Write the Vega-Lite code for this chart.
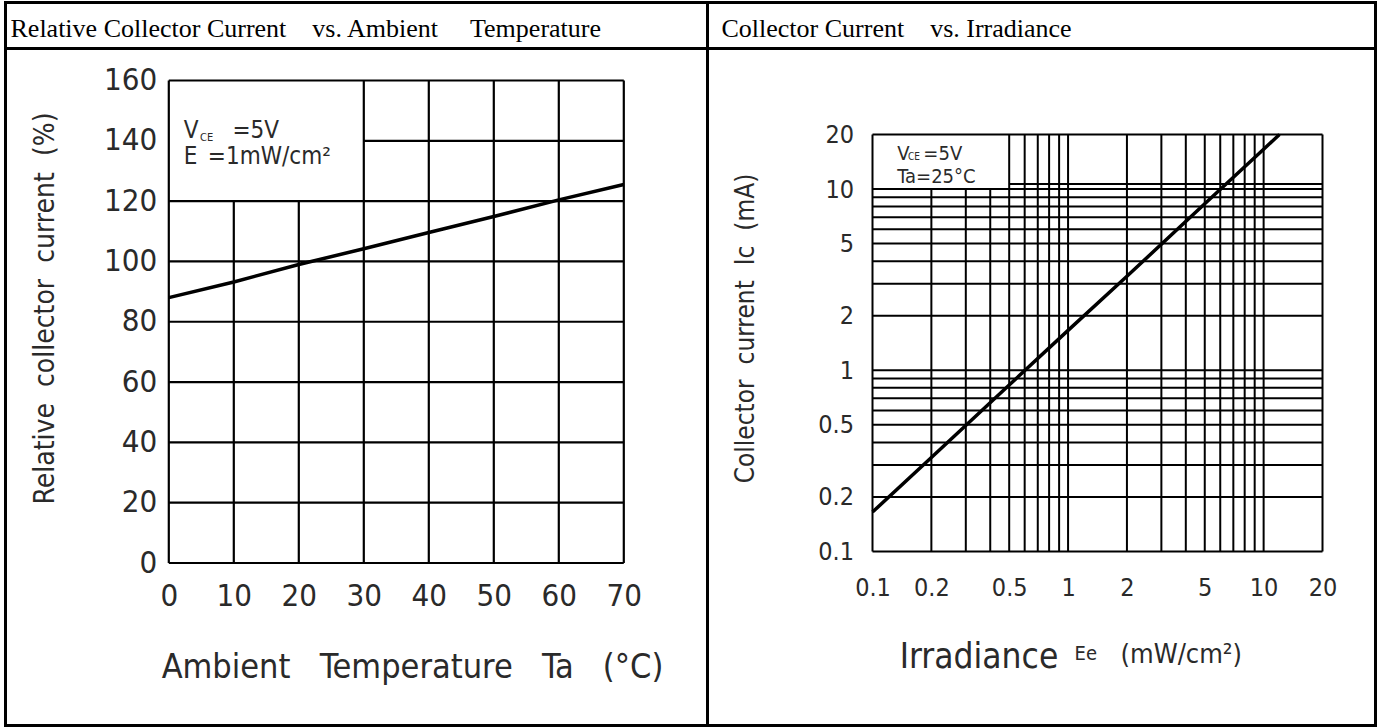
{
  "$schema": "https://vega.github.io/schema/vega-lite/v6.json",
  "background": "white",
  "padding": {"left": 3.5, "top": 0.5, "right": 0, "bottom": 0},
  "config": {
    "view": {"stroke": "black", "strokeWidth": 3},
    "concat": {"spacing": 0},
    "axis": {"grid": false, "domain": false, "ticks": false, "tickSize": 0}
  },
  "columns": 2,
  "spacing": 0,
  "bounds": "flush",
  "concat": [
    {
      "width": 702, "height": 46,
      "data": {"values": [{"heading": "Relative Collector Current\u00a0\u00a0\u00a0 vs. Ambient\u00a0\u00a0\u00a0\u00a0 Temperature"}]},
      "mark": {"type": "text", "align": "left", "baseline": "middle", "font": "Liberation Serif", "fontSize": 26, "color": "black", "dx": 5, "dy": 3},
      "encoding": {
        "text": {"field": "heading"},
        "x": {"datum": 0, "type": "quantitative", "scale": {"domain": [0, 1]}, "axis": null}
      }
    },
    {
      "width": 668, "height": 46,
      "data": {"values": [{"heading": "Collector Current\u00a0\u00a0\u00a0 vs. Irradiance"}]},
      "mark": {"type": "text", "align": "left", "baseline": "middle", "font": "Liberation Serif", "fontSize": 26, "color": "black", "dx": 14, "dy": 3},
      "encoding": {
        "text": {"field": "heading"},
        "x": {"datum": 0, "type": "quantitative", "scale": {"domain": [0, 1]}, "axis": null}
      }
    },
    {
      "width": 702, "height": 677,
      "layer": [
        {
          "data": {"values": [
            {"Ta": 0, "from": 0, "to": 160}, {"Ta": 10, "from": 0, "to": 120}, {"Ta": 20, "from": 0, "to": 120},
            {"Ta": 30, "from": 0, "to": 160}, {"Ta": 40, "from": 0, "to": 160}, {"Ta": 50, "from": 0, "to": 160},
            {"Ta": 60, "from": 0, "to": 160}, {"Ta": 70, "from": 0, "to": 160}
          ]},
          "mark": {"type": "rule", "color": "black", "strokeWidth": 2.2},
          "encoding": {
            "x": {"field": "Ta", "type": "quantitative", "scale": {"domain": [0, 70], "range": [163.3, 618.3], "nice": false, "zero": false}},
            "y": {"field": "from", "type": "quantitative", "scale": {"domain": [0, 160], "range": [514.5, 32], "nice": false, "zero": false}},
            "y2": {"field": "to"}
          }
        },
        {
          "data": {"values": [
            {"I": 0, "from": 0, "to": 70}, {"I": 20, "from": 0, "to": 70}, {"I": 40, "from": 0, "to": 70},
            {"I": 60, "from": 0, "to": 70}, {"I": 80, "from": 0, "to": 70}, {"I": 100, "from": 0, "to": 70},
            {"I": 120, "from": 0, "to": 70}, {"I": 140, "from": 30, "to": 70}, {"I": 160, "from": 0, "to": 70}
          ]},
          "mark": {"type": "rule", "color": "black", "strokeWidth": 2.2},
          "encoding": {
            "y": {"field": "I", "type": "quantitative", "scale": {"domain": [0, 160], "range": [514.5, 32], "nice": false, "zero": false}},
            "x": {"field": "from", "type": "quantitative", "scale": {"domain": [0, 70], "range": [163.3, 618.3], "nice": false, "zero": false}},
            "x2": {"field": "to"}
          }
        },
        {
          "data": {"values": [
            {"Ta": 0, "Irel": 88}, {"Ta": 10, "Irel": 93.2}, {"Ta": 20, "Irel": 99}, {"Ta": 30, "Irel": 104.2},
            {"Ta": 40, "Irel": 109.6}, {"Ta": 50, "Irel": 114.9}, {"Ta": 60, "Irel": 120.4}, {"Ta": 70, "Irel": 125.5}
          ]},
          "mark": {"type": "line", "color": "black", "strokeWidth": 3.5, "strokeCap": "butt"},
          "encoding": {
            "x": {
              "field": "Ta", "type": "quantitative",
              "scale": {"domain": [0, 70], "range": [163.3, 618.3], "nice": false, "zero": false},
              "axis": {
                "values": [0, 10, 20, 30, 40, 50, 60, 70], "grid": false, "domain": false, "ticks": false, "tickSize": 0,
                "offset": -162.5, "labelFont": "DejaVu Sans Condensed, DejaVu Sans", "labelFontSize": 31, "labelColor": "#2a2a2a",
                "labelPadding": 18, "labelFlush": false, "labelOverlap": false,
                "title": "Ambient\u00a0\u00a0 Temperature\u00a0\u00a0 Ta\u00a0\u00a0 (°C)", "titleFont": "DejaVu Sans Condensed, DejaVu Sans", "titleFontSize": 34,
                "titleFontWeight": "normal", "titleColor": "#2a2a2a", "titleX": 406.5, "titleY": 114.5, "titleAlign": "center", "titleBaseline": "alphabetic"
              }
            },
            "y": {
              "field": "Irel", "type": "quantitative",
              "scale": {"domain": [0, 160], "range": [514.5, 32], "nice": false, "zero": false},
              "axis": {
                "values": [0, 20, 40, 60, 80, 100, 120, 140, 160], "grid": false, "domain": false, "ticks": false, "tickSize": 0,
                "offset": -163.3, "labelFont": "DejaVu Sans Condensed, DejaVu Sans", "labelFontSize": 31, "labelColor": "#2a2a2a",
                "labelPadding": 12, "labelFlush": false, "labelOverlap": false,
                "title": "Relative\u00a0 collector\u00a0 current\u00a0 (%)", "titleFont": "DejaVu Sans Condensed, DejaVu Sans", "titleFontSize": 28,
                "titleFontWeight": "normal", "titleColor": "#2a2a2a", "titleX": -115, "titleY": 259.5, "titleAngle": 270, "titleAlign": "center", "titleBaseline": "alphabetic"
              }
            }
          }
        },
        {
          "data": {"values": [
            {"note": "V", "Ta": 2.3, "Irel": 143.4}, {"note": "=5V", "Ta": 9.8, "Irel": 143.4},
            {"note": "E", "Ta": 2.3, "Irel": 134.5}, {"note": "=1mW/cm²", "Ta": 6.0, "Irel": 134.5}
          ]},
          "mark": {"type": "text", "align": "left", "baseline": "middle", "font": "DejaVu Sans Condensed, DejaVu Sans", "fontSize": 24, "color": "#2a2a2a"},
          "encoding": {
            "text": {"field": "note"},
            "x": {"field": "Ta", "type": "quantitative", "scale": {"domain": [0, 70], "range": [163.3, 618.3], "nice": false, "zero": false}},
            "y": {"field": "Irel", "type": "quantitative", "scale": {"domain": [0, 160], "range": [514.5, 32], "nice": false, "zero": false}}
          }
        },
        {
          "data": {"values": [{"note": "CE", "Ta": 4.8, "Irel": 140.8}]},
          "mark": {"type": "text", "align": "left", "baseline": "middle", "font": "DejaVu Sans Condensed, DejaVu Sans", "fontSize": 11, "color": "#2a2a2a"},
          "encoding": {
            "text": {"field": "note"},
            "x": {"field": "Ta", "type": "quantitative", "scale": {"domain": [0, 70], "range": [163.3, 618.3], "nice": false, "zero": false}},
            "y": {"field": "Irel", "type": "quantitative", "scale": {"domain": [0, 160], "range": [514.5, 32], "nice": false, "zero": false}}
          }
        }
      ]
    },
    {
      "width": 668, "height": 677,
      "layer": [
        {
          "data": {"values": [
            {"Ee": 0.1, "from": 0.1, "to": 20}, {"Ee": 0.2, "from": 0.1, "to": 10}, {"Ee": 0.3, "from": 0.1, "to": 10},
            {"Ee": 0.4, "from": 0.1, "to": 10}, {"Ee": 0.5, "from": 0.1, "to": 20}, {"Ee": 0.6, "from": 0.1, "to": 20},
            {"Ee": 0.7, "from": 0.1, "to": 20}, {"Ee": 0.8, "from": 0.1, "to": 20}, {"Ee": 0.9, "from": 0.1, "to": 20},
            {"Ee": 1, "from": 0.1, "to": 20}, {"Ee": 2, "from": 0.1, "to": 20}, {"Ee": 3, "from": 0.1, "to": 20},
            {"Ee": 4, "from": 0.1, "to": 20}, {"Ee": 5, "from": 0.1, "to": 20}, {"Ee": 6, "from": 0.1, "to": 20},
            {"Ee": 7, "from": 0.1, "to": 20}, {"Ee": 8, "from": 0.1, "to": 20}, {"Ee": 9, "from": 0.1, "to": 20},
            {"Ee": 10, "from": 0.1, "to": 20}, {"Ee": 20, "from": 0.1, "to": 20}
          ]},
          "mark": {"type": "rule", "color": "black", "strokeWidth": 2},
          "encoding": {
            "x": {"field": "Ee", "type": "quantitative", "scale": {"type": "log", "domain": [0.1, 20], "range": [165, 615], "nice": false}},
            "y": {"field": "from", "type": "quantitative", "scale": {"type": "log", "domain": [0.1, 20], "range": [503, 86], "nice": false}},
            "y2": {"field": "to"}
          }
        },
        {
          "data": {"values": [
            {"Ic": 0.1, "from": 0.1, "to": 20}, {"Ic": 0.2, "from": 0.1, "to": 20}, {"Ic": 0.3, "from": 0.1, "to": 20},
            {"Ic": 0.4, "from": 0.1, "to": 20}, {"Ic": 0.5, "from": 0.1, "to": 20}, {"Ic": 0.6, "from": 0.1, "to": 20},
            {"Ic": 0.7, "from": 0.1, "to": 20}, {"Ic": 0.8, "from": 0.1, "to": 20}, {"Ic": 0.9, "from": 0.1, "to": 20},
            {"Ic": 1, "from": 0.1, "to": 20}, {"Ic": 2, "from": 0.1, "to": 20}, {"Ic": 3, "from": 0.1, "to": 20},
            {"Ic": 4, "from": 0.1, "to": 20}, {"Ic": 5, "from": 0.1, "to": 20}, {"Ic": 6, "from": 0.1, "to": 20},
            {"Ic": 7, "from": 0.1, "to": 20}, {"Ic": 8, "from": 0.1, "to": 20}, {"Ic": 9, "from": 0.1, "to": 20},
            {"Ic": 10, "from": 0.1, "to": 20}, {"Ic": 10.66, "from": 0.5, "to": 20}, {"Ic": 20, "from": 0.1, "to": 20}
          ]},
          "mark": {"type": "rule", "color": "black", "strokeWidth": 2},
          "encoding": {
            "y": {"field": "Ic", "type": "quantitative", "scale": {"type": "log", "domain": [0.1, 20], "range": [503, 86], "nice": false}},
            "x": {"field": "from", "type": "quantitative", "scale": {"type": "log", "domain": [0.1, 20], "range": [165, 615], "nice": false}},
            "x2": {"field": "to"}
          }
        },
        {
          "data": {"values": [
            {"Ee": 0.1, "Ic": 0.165}, {"Ee": 0.2, "Ic": 0.33}, {"Ee": 0.5, "Ic": 0.83}, {"Ee": 1, "Ic": 1.66},
            {"Ee": 2, "Ic": 3.3}, {"Ee": 5, "Ic": 8.3}, {"Ee": 10, "Ic": 16.6}, {"Ee": 12.05, "Ic": 20}
          ]},
          "mark": {"type": "line", "color": "black", "strokeWidth": 3.5, "strokeCap": "butt"},
          "encoding": {
            "x": {
              "field": "Ee", "type": "quantitative",
              "scale": {"type": "log", "domain": [0.1, 20], "range": [165, 615], "nice": false},
              "axis": {
                "values": [0.1, 0.2, 0.5, 1, 2, 5, 10, 20], "format": "~g", "grid": false, "domain": false, "ticks": false, "tickSize": 0,
                "offset": -174, "labelFont": "DejaVu Sans Condensed, DejaVu Sans", "labelFontSize": 25, "labelColor": "#2a2a2a",
                "labelPadding": 24, "labelFlush": false, "labelOverlap": false,
                "title": "Irradiance", "titleFont": "DejaVu Sans Condensed, DejaVu Sans", "titleFontSize": 35,
                "titleFontWeight": "normal", "titleColor": "#2a2a2a", "titleX": 271, "titleY": 116, "titleAlign": "center", "titleBaseline": "alphabetic"
              }
            },
            "y": {
              "field": "Ic", "type": "quantitative",
              "scale": {"type": "log", "domain": [0.1, 20], "range": [503, 86], "nice": false},
              "axis": {
                "values": [0.1, 0.2, 0.5, 1, 2, 5, 10, 20], "format": "~g", "grid": false, "domain": false, "ticks": false, "tickSize": 0,
                "offset": -165, "labelFont": "DejaVu Sans Condensed, DejaVu Sans", "labelFontSize": 25, "labelColor": "#2a2a2a",
                "labelPadding": 19, "labelFlush": false, "labelOverlap": false,
                "title": "Collector\u00a0 current\u00a0 Ic\u00a0 (mA)", "titleFont": "DejaVu Sans Condensed, DejaVu Sans", "titleFontSize": 26,
                "titleFontWeight": "normal", "titleColor": "#2a2a2a", "titleX": -119, "titleY": 279.5, "titleAngle": 270, "titleAlign": "center", "titleBaseline": "alphabetic"
              }
            }
          }
        },
        {
          "data": {"values": [
            {"note": "V", "Ee": 0.134, "Ic": 15.7}, {"note": "=5V", "Ee": 0.182, "Ic": 15.7},
            {"note": "Ta=25°C", "Ee": 0.134, "Ic": 11.6}
          ]},
          "mark": {"type": "text", "align": "left", "baseline": "middle", "font": "DejaVu Sans Condensed, DejaVu Sans", "fontSize": 20, "color": "#2a2a2a"},
          "encoding": {
            "text": {"field": "note"},
            "x": {"field": "Ee", "type": "quantitative", "scale": {"type": "log", "domain": [0.1, 20], "range": [165, 615], "nice": false}},
            "y": {"field": "Ic", "type": "quantitative", "scale": {"type": "log", "domain": [0.1, 20], "range": [503, 86], "nice": false}}
          }
        },
        {
          "data": {"values": [{"note": "CE", "Ee": 0.152, "Ic": 15.0}]},
          "mark": {"type": "text", "align": "left", "baseline": "middle", "font": "DejaVu Sans Condensed, DejaVu Sans", "fontSize": 10, "color": "#2a2a2a"},
          "encoding": {
            "text": {"field": "note"},
            "x": {"field": "Ee", "type": "quantitative", "scale": {"type": "log", "domain": [0.1, 20], "range": [165, 615], "nice": false}},
            "y": {"field": "Ic", "type": "quantitative", "scale": {"type": "log", "domain": [0.1, 20], "range": [503, 86], "nice": false}}
          }
        },
        {
          "data": {"values": [{"note": "Ee", "Ee": 1.079, "Ic": 0.02535}]},
          "mark": {"type": "text", "align": "left", "baseline": "alphabetic", "font": "DejaVu Sans Condensed, DejaVu Sans", "fontSize": 20, "color": "#2a2a2a"},
          "encoding": {
            "text": {"field": "note"},
            "x": {"field": "Ee", "type": "quantitative", "scale": {"type": "log", "domain": [0.1, 20], "range": [165, 615], "nice": false}},
            "y": {"field": "Ic", "type": "quantitative", "scale": {"type": "log", "domain": [0.1, 20], "range": [503, 86], "nice": false}}
          }
        },
        {
          "data": {"values": [{"note": "(mW/cm²)", "Ee": 1.854, "Ic": 0.0241}]},
          "mark": {"type": "text", "align": "left", "baseline": "alphabetic", "font": "DejaVu Sans Condensed, DejaVu Sans", "fontSize": 27, "color": "#2a2a2a"},
          "encoding": {
            "text": {"field": "note"},
            "x": {"field": "Ee", "type": "quantitative", "scale": {"type": "log", "domain": [0.1, 20], "range": [165, 615], "nice": false}},
            "y": {"field": "Ic", "type": "quantitative", "scale": {"type": "log", "domain": [0.1, 20], "range": [503, 86], "nice": false}}
          }
        }
      ]
    }
  ]
}
